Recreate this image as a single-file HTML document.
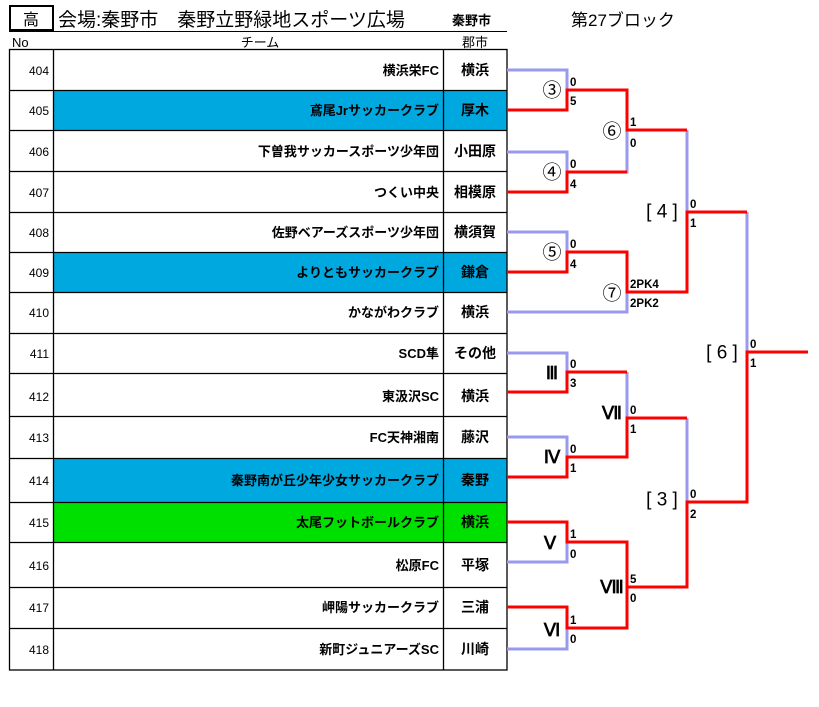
<!DOCTYPE html>
<html><head><meta charset="utf-8"><style>
body{margin:0;background:#fff;}
svg{display:block;font-family:"Liberation Sans","Noto Sans CJK JP",sans-serif;}
.t{font-size:13px;font-weight:bold;text-anchor:end;}
.c{font-size:14px;font-weight:bold;text-anchor:middle;}
.n{font-size:12px;text-anchor:end;}
.s{font-size:11.5px;font-weight:bold;}
.l{font-size:19px;text-anchor:middle;dominant-baseline:central;}
.r{font-family:"Liberation Serif",serif;font-weight:bold;font-size:18px;}
</style></head><body>
<svg width="819" height="707" viewBox="0 0 819 707" xmlns="http://www.w3.org/2000/svg">
<rect x="10" y="6" width="43" height="24" fill="none" stroke="#000" stroke-width="2"/>
<text x="31" y="25" font-size="16" text-anchor="middle">高</text>
<text x="58" y="26" font-size="19">会場:秦野市　秦野立野緑地スポーツ広場</text>
<text x="452" y="25" font-size="13" font-weight="bold">秦野市</text>
<text x="571" y="26" font-size="17">第27ブロック</text>
<line x1="9" y1="31.5" x2="507" y2="31.5" stroke="#000"/>
<text x="12" y="47" font-size="13">No</text>
<text x="260" y="47" font-size="13" text-anchor="middle">チーム</text>
<text x="475" y="47" font-size="13" text-anchor="middle">郡市</text>
<rect x="53" y="90" width="454" height="40" fill="#00a8e0"/>
<rect x="53" y="252" width="454" height="40" fill="#00a8e0"/>
<rect x="53" y="458" width="454" height="44" fill="#00a8e0"/>
<rect x="53" y="502" width="454" height="40" fill="#00e000"/>
<g stroke="#000" stroke-width="1.3" fill="none">
<rect x="9.5" y="49.5" width="497.5" height="620.5"/>
<line x1="53.5" y1="49" x2="53.5" y2="670"/>
<line x1="443.5" y1="49" x2="443.5" y2="670"/>
<path d="M9 90.5H507M9 130.5H507M9 171.5H507M9 212.5H507M9 252.5H507M9 292.5H507M9 333.5H507M9 373.5H507M9 416.5H507M9 458.5H507M9 502.5H507M9 542.5H507M9 587.5H507M9 628.5H507"/>
</g>
<g>
<text class="n" x="49" y="75">404</text><text class="t" x="439" y="75">横浜栄FC</text><text class="c" x="475" y="75">横浜</text>
<text class="n" x="49" y="115">405</text><text class="t" x="439" y="115">鳶尾Jrサッカークラブ</text><text class="c" x="475" y="115">厚木</text>
<text class="n" x="49" y="156">406</text><text class="t" x="439" y="156">下曽我サッカースポーツ少年団</text><text class="c" x="475" y="156">小田原</text>
<text class="n" x="49" y="197">407</text><text class="t" x="439" y="197">つくい中央</text><text class="c" x="475" y="197">相模原</text>
<text class="n" x="49" y="237">408</text><text class="t" x="439" y="237">佐野ベアーズスポーツ少年団</text><text class="c" x="475" y="237">横須賀</text>
<text class="n" x="49" y="277">409</text><text class="t" x="439" y="277">よりともサッカークラブ</text><text class="c" x="475" y="277">鎌倉</text>
<text class="n" x="49" y="317">410</text><text class="t" x="439" y="317">かながわクラブ</text><text class="c" x="475" y="317">横浜</text>
<text class="n" x="49" y="358">411</text><text class="t" x="439" y="358">SCD隼</text><text class="c" x="475" y="358">その他</text>
<text class="n" x="49" y="401">412</text><text class="t" x="439" y="401">東汲沢SC</text><text class="c" x="475" y="401">横浜</text>
<text class="n" x="49" y="442">413</text><text class="t" x="439" y="442">FC天神湘南</text><text class="c" x="475" y="442">藤沢</text>
<text class="n" x="49" y="485">414</text><text class="t" x="439" y="485">秦野南が丘少年少女サッカークラブ</text><text class="c" x="475" y="485">秦野</text>
<text class="n" x="49" y="527">415</text><text class="t" x="439" y="527">太尾フットボールクラブ</text><text class="c" x="475" y="527">横浜</text>
<text class="n" x="49" y="570">416</text><text class="t" x="439" y="570">松原FC</text><text class="c" x="475" y="570">平塚</text>
<text class="n" x="49" y="612">417</text><text class="t" x="439" y="612">岬陽サッカークラブ</text><text class="c" x="475" y="612">三浦</text>
<text class="n" x="49" y="654">418</text><text class="t" x="439" y="654">新町ジュニアーズSC</text><text class="c" x="475" y="654">川崎</text>
</g>
<g stroke="#9999ee" stroke-width="3" fill="none">
<path d="M507 70H567V90"/>
<path d="M507 152H567V172"/>
<path d="M507 232H567V252"/>
<path d="M507 312H627V292"/>
<path d="M627 130V172H567"/>
<path d="M687 130V212"/>
<path d="M507 353H567V372"/>
<path d="M507 437H567V457"/>
<path d="M507 562H567V542"/>
<path d="M507 649H567V628"/>
<path d="M627 372V418"/>
<path d="M627 587V628H567"/>
<path d="M687 418V502"/>
<path d="M747 212V352"/>
</g>
<g stroke="#ff0000" stroke-width="3" fill="none">
<path d="M507 110H567V90H627V130H687"/>
<path d="M507 192H567V172H627"/>
<path d="M507 272H567V252H627V292H687V212H747"/>
<path d="M507 392H567V372H627"/>
<path d="M507 477H567V457H627V418H687"/>
<path d="M507 522H567V542H627V587H687V502H747V352H808"/>
<path d="M507 607H567V628H627V587"/>
</g>
<g class="s">
<text x="570" y="86">0</text><text x="570" y="105">5</text>
<text x="570" y="168">0</text><text x="570" y="188">4</text>
<text x="570" y="248">0</text><text x="570" y="268">4</text>
<text x="630" y="126">1</text><text x="630" y="147">0</text>
<text x="630" y="288">2PK4</text><text x="630" y="307">2PK2</text>
<text x="690" y="208">0</text><text x="690" y="227">1</text>
<text x="570" y="368">0</text><text x="570" y="387">3</text>
<text x="570" y="453">0</text><text x="570" y="472">1</text>
<text x="570" y="538">1</text><text x="570" y="558">0</text>
<text x="570" y="624">1</text><text x="570" y="643">0</text>
<text x="630" y="414">0</text><text x="630" y="433">1</text>
<text x="630" y="583">5</text><text x="630" y="602">0</text>
<text x="690" y="498">0</text><text x="690" y="518">2</text>
<text x="750" y="348">0</text><text x="750" y="367">1</text>
</g>
<g class="l">
<text x="552" y="91">③</text>
<text x="552" y="173">④</text>
<text x="552" y="253">⑤</text>
<text x="612" y="132">⑥</text>
<text x="612" y="294">⑦</text>
<text x="662" y="212">[ 4 ]</text>
<text x="722" y="353">[ 6 ]</text>
<text x="662" y="500">[ 3 ]</text>
<text class="r" x="552" y="373">Ⅲ</text>
<text class="r" x="552" y="457">Ⅳ</text>
<text class="r" x="550" y="543">Ⅴ</text>
<text class="r" x="552" y="630">Ⅵ</text>
<text class="r" x="612" y="413">Ⅶ</text>
<text class="r" x="612" y="587">Ⅷ</text>
</g>
</svg>
</body></html>
